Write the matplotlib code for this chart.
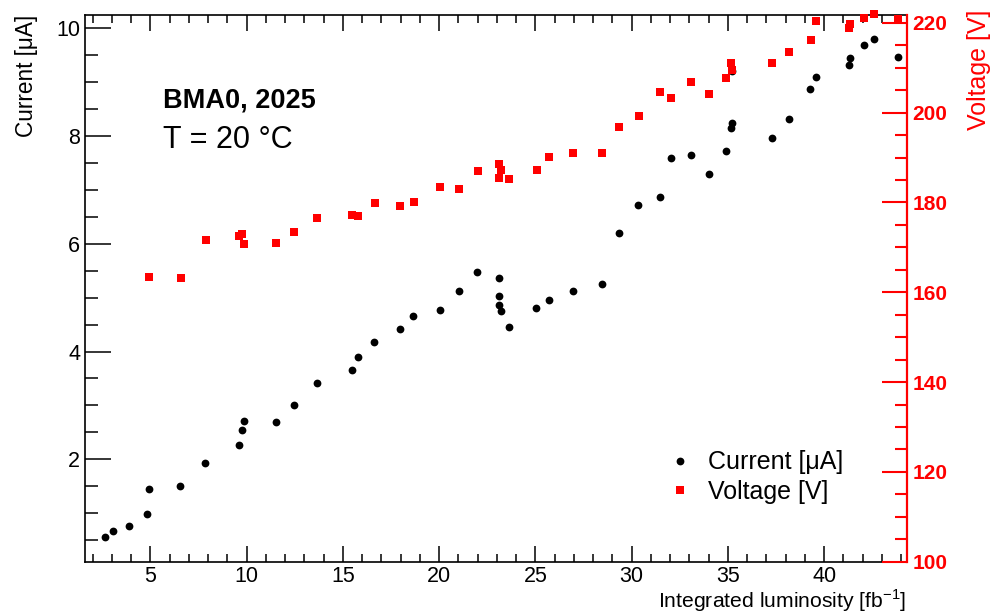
import numpy as np
import matplotlib
matplotlib.use("Agg")
import matplotlib.pyplot as plt
from matplotlib.ticker import MultipleLocator

plt.rcParams['font.family'] = ['Liberation Sans', 'DejaVu Sans']
plt.rcParams['mathtext.fontset'] = 'custom'
plt.rcParams['mathtext.rm'] = 'Liberation Sans'

# current vs integrated luminosity
lumi_i = [2.66, 3.08, 3.89, 4.84, 4.92, 6.56, 7.85, 9.62, 9.77, 9.85, 11.54, 12.46,
          13.65, 15.47, 15.78, 16.64, 17.99, 18.67, 20.05, 21.04, 21.99, 23.11, 23.11,
          23.11, 23.24, 23.63, 25.03, 25.69, 26.94, 28.46, 29.37, 30.34, 31.49, 32.04,
          33.11, 34.03, 34.91, 35.17, 35.20, 35.22, 37.31, 38.20, 39.29, 39.56, 41.29,
          41.35, 42.05, 42.57, 43.82]
current = [0.55, 0.67, 0.77, 0.98, 1.45, 1.51, 1.94, 2.27, 2.54, 2.71, 2.70, 3.00,
           3.41, 3.65, 3.89, 4.17, 4.42, 4.66, 4.77, 5.12, 5.47, 5.37, 5.03,
           4.87, 4.75, 4.45, 4.80, 4.96, 5.12, 5.25, 6.20, 6.72, 6.87, 7.60,
           7.64, 7.30, 7.73, 8.15, 8.24, 9.20, 7.96, 8.32, 8.87, 9.10, 9.31,
           9.45, 9.69, 9.80, 9.47]

# voltage vs integrated luminosity
lumi_v = [4.92, 6.59, 7.87, 9.62, 9.77, 9.86, 11.54, 12.46, 13.65, 15.48, 15.81, 16.66,
          17.99, 18.68, 20.07, 21.06, 22.01, 23.13, 23.20, 23.13, 23.65, 25.07, 25.71,
          26.95, 28.46, 29.36, 30.36, 31.47, 32.04, 33.11, 34.03, 34.93, 35.17, 35.22,
          37.30, 38.20, 39.32, 39.56, 41.29, 41.35, 42.05, 42.59, 43.82]
voltage = [163.4, 163.1, 171.6, 172.6, 172.9, 170.7, 171.0, 173.4, 176.5, 177.1, 176.9, 179.9,
           179.1, 180.1, 183.4, 183.0, 187.1, 188.5, 187.2, 185.5, 185.2, 187.3, 190.2,
           190.9, 191.0, 196.7, 199.3, 204.6, 203.3, 206.9, 204.1, 207.6, 211.0, 209.4,
           211.0, 213.5, 216.2, 220.4, 218.8, 219.7, 221.0, 221.9, 220.8]

W, H = 992, 613
fig = plt.figure(figsize=(W / 100, H / 100), dpi=100)
x0, x1, y0, y1 = 85, 906.7, 14.7, 561.7
ax = fig.add_axes([x0 / W, 1 - y1 / H, (x1 - x0) / W, (y1 - y0) / H])

ax.plot(lumi_i, current, 'o', color='black', ms=5.6, mew=0, clip_on=False, zorder=3,
        label='Current [μA]')
ax.set_xlim(1.61, 44.29)
ax.set_ylim(0.1, 10.25)

ax.xaxis.set_major_locator(MultipleLocator(5))
ax.xaxis.set_minor_locator(MultipleLocator(1))
ax.yaxis.set_major_locator(MultipleLocator(2))
ax.yaxis.set_minor_locator(MultipleLocator(0.5))
ax.tick_params(axis='x', which='both', direction='in', top=True, width=1.1,
               labelsize=15.5, pad=3)
ax.tick_params(axis='x', which='major', length=11.5)
ax.tick_params(axis='x', which='minor', length=5.8)
ax.tick_params(axis='y', which='both', direction='in', right=False, width=1.1,
               labelsize=15.5, pad=3.5)
ax.tick_params(axis='y', which='major', length=18.7)
ax.tick_params(axis='y', which='minor', length=9.4)
ax.spines['right'].set_visible(False)
for s in ['left', 'top', 'bottom']:
    ax.spines[s].set_linewidth(1.2)

ax2 = ax.twinx()
ax2.plot(lumi_v, voltage, 's', color='#ff0000', ms=6.0, mew=0, clip_on=False, zorder=4,
         label='Voltage [V]')
ax2.set_ylim(100, 221.8)
ax2.yaxis.set_major_locator(MultipleLocator(20))
ax2.yaxis.set_minor_locator(MultipleLocator(5))
ax2.tick_params(axis='y', which='both', direction='in', colors='#ff0000', width=1.5,
                labelsize=15, pad=4)
ax2.tick_params(axis='y', which='major', length=18)
ax2.tick_params(axis='y', which='minor', length=8.6)
for lbl in ax2.get_yticklabels():
    lbl.set_fontweight('bold')
ax2.spines['right'].set_color('#ff0000')
ax2.spines['right'].set_linewidth(1.6)
for s in ['left', 'top', 'bottom']:
    ax2.spines[s].set_visible(False)

# axis titles, aligned to axis ends like ROOT
fig.text(26 / W, 1 - 15 / H, 'Current [μA]', rotation=90, ha='center', va='top',
         fontsize=16.3)
fig.text(979 / W, 1 - 10 / H, 'Voltage [V]', rotation=90, ha='center', va='top',
         fontsize=18, color='#ff0000')
fig.text(906 / W, 1 - 608 / H, r'Integrated luminosity [fb$^{\mathregular{-1}}$]',
         ha='right', va='baseline', fontsize=15.2)

fig.text(163 / W, 1 - 107 / H, 'BMA0, 2025', fontsize=19.5, fontweight='bold',
         ha='left', va='baseline')
fig.text(163 / W, 1 - 148 / H, 'T = 20 °C', fontsize=22, ha='left', va='baseline')

h1, l1 = ax.get_legend_handles_labels()
h2, l2 = ax2.get_legend_handles_labels()
leg = ax2.legend(h1 + h2, l1 + l2, loc='upper left',
                 bbox_to_anchor=(650 / W, 1 - 433 / H), bbox_transform=fig.transFigure,
                 frameon=False, fontsize=18, handlelength=1.0, handletextpad=0.6,
                 labelspacing=0.22, borderpad=0.2, markerscale=1.0)

fig.savefig('out.png', dpi=100)
